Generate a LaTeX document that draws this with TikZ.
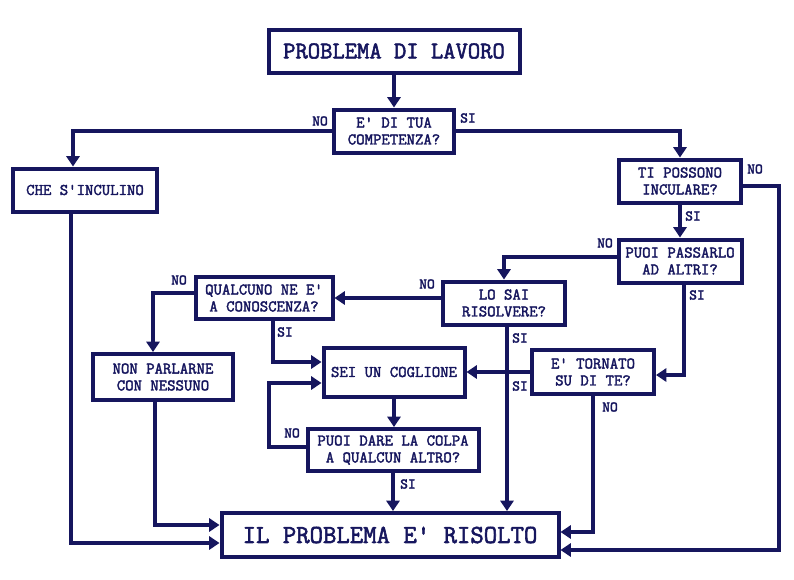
\documentclass[tikz,border=0pt]{standalone}
\usepackage{fontspec}
\setmonofont{Latin Modern Mono}[AutoFakeBold=2.2]
\usepackage{tikz}
\usetikzlibrary{calc}
\usetikzlibrary{arrows.meta}
\definecolor{FlowNavy}{HTML}{16165E}

\begin{document}
\begin{tikzpicture}[x=0.025cm,y=-0.025cm]
    \tikzstyle{box}=[draw=FlowNavy,line width=0.1cm,fill=white,text=FlowNavy,align=center,inner sep=0pt,
        font=\ttfamily\bfseries\fontsize{11.6}{12}\selectfont,minimum height=43*0.025cm]
    \tikzstyle{lbl}=[text=FlowNavy,inner sep=0pt,font=\ttfamily\bfseries\fontsize{10.6}{11}\selectfont]
    \tikzstyle{arr}=[draw=FlowNavy,line width=0.1cm,-{Triangle[width=0.33cm,length=0.26cm]}]

    \useasboundingbox (0,0) rectangle (794,579);

    % start
    \coordinate (prob_c) at (394,51);
    \node[box,minimum width=251*0.025cm,font=\ttfamily\bfseries\fontsize{17}{18}\selectfont] (prob) at (prob_c) {PROBLEMA DI LAVORO};

    % competence
    \coordinate (comp_c) at (394,131);
    \node[box,minimum width=120*0.025cm] (comp) at (comp_c) {E' DI TUA\\COMPETENZA?};

    \draw[arr] (prob) -- (comp);

    % left: not yours
    \coordinate (che_c) at (85,190);
    \node[box,minimum width=144*0.025cm] (che) at (che_c) {CHE S'INCULINO};

    \draw[arr] (comp.west) -| ($(che.north)+(-12,0)$);
    \node[lbl] (no_comp) at (320,121) {NO};

    % right: yours
    \coordinate (ti_c) at (680,181);
    \node[box,minimum width=122*0.025cm] (ti) at (ti_c) {TI POSSONO\\INCULARE?};

    \draw[arr] (comp.east) -| (ti.north);
    \node[lbl] (si_comp) at (468,118) {SI};

    % pass it on
    \coordinate (pp_c) at (680,261);
    \node[box,minimum width=123*0.025cm] (pp) at (pp_c) {PUOI PASSARLO\\AD ALTRI?};

    \draw[arr] (ti) -- (pp);
    \node[lbl] (si_ti) at (693,216) {SI};

    % can you solve it
    \coordinate (lo_c) at (504,303);
    \node[box,minimum width=122*0.025cm] (lo) at (lo_c) {LO SAI\\RISOLVERE?};

    \draw[arr] ($(pp.west)+(0,-4)$) -| (lo.north);
    \node[lbl] (no_pp) at (605,243) {NO};

    % does anyone know
    \coordinate (qual_c) at (264,298);
    \node[box,minimum width=137*0.025cm,minimum height=42*0.025cm] (qual) at (qual_c) {QUALCUNO NE E'\\A CONOSCENZA?};

    \draw[arr] ($(lo.west)+(0,-5)$) -- (qual.east |- {$(lo.west)+(0,-5)$});
    \node[lbl] (no_lo) at (427,284) {NO};

    % keep quiet
    \coordinate (non_c) at (163,377);
    \node[box,minimum width=140*0.025cm,minimum height=46*0.025cm] (non) at (non_c) {NON PARLARNE\\CON NESSUNO};

    \draw[arr] ($(qual.west)+(0,-5)$) -| ($(non.north)+(-10,0)$);
    \node[lbl] (no_qual) at (179,280) {NO};

    % blamed
    \coordinate (sei_c) at (394,372);
    \node[box,minimum width=141*0.025cm,minimum height=49*0.025cm] (sei) at (sei_c) {SEI UN COGLIONE};

    \draw[arr] ($(qual.south)+(9,0)$) |- ($(sei.west)+(0,-10)$);
    \node[lbl] (si_qual) at (285,332) {SI};

    % came back to you
    \coordinate (torn_c) at (593,372);
    \node[box,minimum width=122*0.025cm,minimum height=44*0.025cm] (torn) at (torn_c) {E' TORNATO\\SU DI TE?};

    \draw[arr] ($(pp.south)+(4,0)$) |- ($(torn.east)+(0,3)$);
    \node[lbl] (si_pp) at (697,295) {SI};

    \draw[arr] (torn.west) -- (sei.east);
    \node[lbl] (si_torn) at (520,386) {SI};

    % blame someone else
    \coordinate (pd_c) at (393,450);
    \node[box,minimum width=171*0.025cm,minimum height=42*0.025cm] (pd) at (pd_c) {PUOI DARE LA COLPA\\A QUALCUN ALTRO?};

    \draw[arr] (sei) -- (sei |- pd.north);
    \draw[arr] ($(pd.west)+(0,-3)$) -- ++(-37,0) |- ($(sei.west)+(0,11)$);
    \node[lbl] (no_pd) at (292,433) {NO};

    % solved
    \coordinate (fin_c) at (390,535);
    \node[box,minimum width=337*0.025cm,minimum height=44*0.025cm,font=\ttfamily\bfseries\fontsize{18.5}{19}\selectfont] (fin) at (fin_c) {IL PROBLEMA E' RISOLTO};

    \draw[arr] (pd) -- (pd |- fin.north);
    \node[lbl] (si_pd) at (408,484) {SI};

    \coordinate (lo_s) at ($(lo.south)+(3,0)$);
    \draw[arr] (lo_s) -- (lo_s |- fin.north);
    \node[lbl] (si_lo) at (520,338) {SI};

    \draw[arr] (torn.south) |- ($(fin.east)+(0,-3)$);
    \node[lbl] (no_torn) at (610,407) {NO};

    \draw[arr] ($(ti.east)+(0,5)$) -- ++(36,0) |- ($(fin.east)+(0,15)$);
    \node[lbl] (no_ti) at (755,169) {NO};

    \draw[arr] ($(che.south)+(-14,0)$) |- ($(fin.west)+(0,8)$);
    \draw[arr] ($(non.south)+(-8,0)$) |- ($(fin.west)+(0,-10)$);

\end{tikzpicture}
\end{document}
